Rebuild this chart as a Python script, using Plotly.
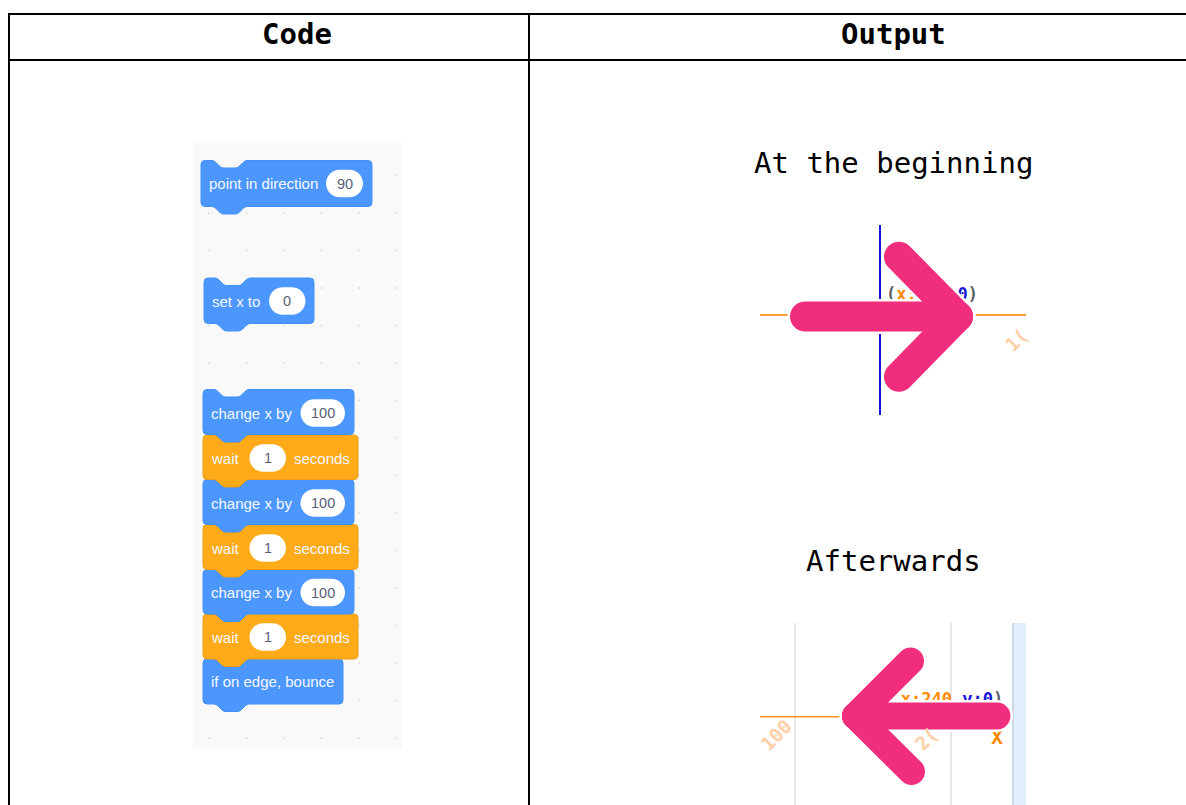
import math
import plotly.graph_objects as go

W, H = 1186, 805
# --- content -------------------------------------------------------------
headers = ["Code", "Output"]
captions = ["At the beginning", "Afterwards"]
BLUE, ORANGE = "#4c97ff", "#ffab19"
BLUE_EDGE, ORANGE_EDGE = "#4390f5", "#ec9f16"

# block: x, top, right, bottom, colour, edge
blocks = [
    (201, 160.5, 372, 206.5, BLUE, BLUE_EDGE),
    (204, 278, 314, 323.5, BLUE, BLUE_EDGE),
    (203, 389.5, 354, 434.5, BLUE, BLUE_EDGE),
    (203, 435, 358, 479.5, ORANGE, ORANGE_EDGE),
    (203, 479.5, 354, 524.5, BLUE, BLUE_EDGE),
    (203, 524.5, 358, 569.5, ORANGE, ORANGE_EDGE),
    (203, 569.5, 354, 614, BLUE, BLUE_EDGE),
    (203, 614, 358, 659, ORANGE, ORANGE_EDGE),
    (203, 659, 343, 704, BLUE, BLUE_EDGE),
]
# draw order: later blocks sit under the bump of earlier ones
block_order = [8, 7, 6, 5, 4, 3, 2, 1, 0]

block_labels = [
    ("point in direction", 207, 183.5), ("set x to", 210, 301.5),
    ("change x by", 209, 413.5), ("wait", 209, 458), ("seconds", 291.5, 458),
    ("change x by", 209, 503), ("wait", 209, 548), ("seconds", 291.5, 548),
    ("change x by", 209, 592.5), ("wait", 209, 637), ("seconds", 291.5, 637),
    ("if on edge, bounce", 209, 681.5),
]
# pill: left, right, centre y, value
pills = [
    (326, 363, 183.5, "90"), (269, 305.5, 301, "0"),
    (300.5, 345, 413, "100"), (249.5, 286, 458, "1"),
    (300.5, 345, 503, "100"), (249.5, 286, 548, "1"),
    (300.5, 345, 592.5, "100"), (249.5, 286, 637, "1"),
]
dot_xs = [209, 246.5, 284, 321.5, 359, 396.5]
dot_ys = [175.5, 213, 250.5, 288, 325.5, 363, 400.5, 438, 475.5, 513, 550.5, 588, 625.5, 663, 700.5, 738]

PINK = "#f02e7d"
arrow_right = dict(tail=(805, 316.5), tip=(958, 316.5), arm1=(899, 256.7), arm2=(899, 376.7), r=15)
arrow_left = dict(tail=(997, 716), tip=(855.5, 716), arm1=(910.5, 661), arm2=(911.5, 771.5), r=13.5)

ORANGE_AXIS, BLUE_AXIS, GREY_TXT, PALE = "#ff9a3d", "#1616d8", "#5a6068", "#ffd0a8"


def block_path(x0, y0, x1, y1):
    r = 4
    d = 7.5
    a, b, c, e = x0 + 13, x0 + 21, x0 + 36, x0 + 44
    s = 2  # softening of the notch corners
    return (f"M{x0},{y0+r} Q{x0},{y0} {x0+r},{y0} L{a-s},{y0} Q{a},{y0} {a+s},{y0+2} L{b-1.5},{y0+d-1} Q{b},{y0+d} {b+2},{y0+d} "
            f"L{c-2},{y0+d} Q{c},{y0+d} {c+1.5},{y0+d-1} L{e-s},{y0+2} Q{e},{y0} {e+s},{y0} "
            f"L{x1-r},{y0} Q{x1},{y0} {x1},{y0+r} L{x1},{y1-r} Q{x1},{y1} {x1-r},{y1} "
            f"L{e+s},{y1} Q{e},{y1} {e-s},{y1+2} L{c+1.5},{y1+d-1} Q{c},{y1+d} {c-2},{y1+d} "
            f"L{b+2},{y1+d} Q{b},{y1+d} {b-1.5},{y1+d-1} L{a+s},{y1+2} Q{a},{y1} {a-s},{y1} "
            f"L{x0+r},{y1} Q{x0},{y1} {x0},{y1-r} Z")


def pill_path(x0, x1, yc, h=27.5):
    r = h / 2
    k = r * 0.5523
    return (f"M{x0+r},{yc-r} L{x1-r},{yc-r} C{x1-r+k},{yc-r} {x1},{yc-k} {x1},{yc} "
            f"C{x1},{yc+k} {x1-r+k},{yc+r} {x1-r},{yc+r} L{x0+r},{yc+r} "
            f"C{x0+r-k},{yc+r} {x0},{yc+k} {x0},{yc} C{x0},{yc-k} {x0+r-k},{yc-r} {x0+r},{yc-r} Z")


def capsule(p, q, r):
    dx, dy = q[0] - p[0], q[1] - p[1]
    L = math.hypot(dx, dy)
    ux, uy = dx / L, dy / L
    nx, ny = -uy, ux
    k = r * 0.5523
    a = (p[0] + nx * r, p[1] + ny * r)
    b = (q[0] + nx * r, q[1] + ny * r)
    c = (q[0] - nx * r, q[1] - ny * r)
    d = (p[0] - nx * r, p[1] - ny * r)
    e = (q[0] + ux * r, q[1] + uy * r)
    f = (p[0] - ux * r, p[1] - uy * r)
    return (f"M{a[0]:.2f},{a[1]:.2f} L{b[0]:.2f},{b[1]:.2f} "
            f"C{b[0]+ux*k:.2f},{b[1]+uy*k:.2f} {e[0]+nx*k:.2f},{e[1]+ny*k:.2f} {e[0]:.2f},{e[1]:.2f} "
            f"C{e[0]-nx*k:.2f},{e[1]-ny*k:.2f} {c[0]+ux*k:.2f},{c[1]+uy*k:.2f} {c[0]:.2f},{c[1]:.2f} "
            f"L{d[0]:.2f},{d[1]:.2f} "
            f"C{d[0]-ux*k:.2f},{d[1]-uy*k:.2f} {f[0]-nx*k:.2f},{f[1]-ny*k:.2f} {f[0]:.2f},{f[1]:.2f} "
            f"C{f[0]+nx*k:.2f},{f[1]+ny*k:.2f} {a[0]-ux*k:.2f},{a[1]-uy*k:.2f} {a[0]:.2f},{a[1]:.2f} Z")


shapes = []


def rect(x0, y0, x1, y1, color, layer="below"):
    shapes.append(dict(type="rect", x0=x0, y0=y0, x1=x1, y1=y1, fillcolor=color, line_width=0, layer=layer))


def seg(x0, y0, x1, y1, color, w, layer="below"):
    shapes.append(dict(type="line", x0=x0, y0=y0, x1=x1, y1=y1, line=dict(color=color, width=w), layer=layer))


def path(d, fill, line=None, layer="above"):
    shapes.append(dict(type="path", path=d, fillcolor=fill, layer=layer,
                       line=dict(color=line or fill, width=1 if line else 0)))


# code panel
rect(193, 143, 402, 748, "#f9f9f9")
# output panels: axes
seg(760, 315, 1026, 315, ORANGE_AXIS, 2)
seg(880, 225, 880, 415, BLUE_AXIS, 2)
seg(795, 623, 795, 805, "#e6e6e6", 2)
seg(951, 623, 951, 805, "#e6e6e6", 2)
rect(1012, 623, 1026, 805, "#e3eefc")
rect(1012, 623, 1014, 805, "#c9d8ea")
seg(760, 716.7, 860, 716.7, "#ff9328", 1.5)

for i in block_order:
    x0, y0, x1, y1, col, edge = blocks[i]
    path(block_path(x0, y0, x1, y1), col, edge)
for x0, x1, yc, _ in pills:
    path(pill_path(x0, x1, yc), "#ffffff")

for a in (arrow_right, arrow_left):
    for color, r in (("#ffffff", a["r"] + 2.5), (PINK, a["r"])):
        for s in (a["tail"], a["arm1"], a["arm2"]):
            path(capsule(s, a["tip"], r), color)

# table rules
seg(9, 14, W, 14, "#000000", 2, "above")
seg(9, 60, W, 60, "#000000", 2, "above")
seg(9, 13, 9, H, "#000000", 2, "above")
seg(529, 14, 529, H, "#000000", 2, "above")

fig = go.Figure()
# background dots
fig.add_trace(go.Scatter(x=[x for x in dot_xs for _ in dot_ys], y=[y for _ in dot_xs for y in dot_ys],
                         mode="markers", marker=dict(size=2, color="#dedede"), hoverinfo="skip"))

MONO = "DejaVu Sans Mono"
# labels that sit behind the arrows
fig.add_trace(go.Scatter(
    x=[932, 952, 997],
    y=[295.5, 701, 739],
    mode="text",
    text=[f'<span style="color:{GREY_TXT}">(</span><span style="color:#ff8a00">x:0</span> '
          f'<span style="color:{BLUE_AXIS}">y:0</span><span style="color:{GREY_TXT}">)</span>',
          f'<span style="color:#ff8a00">x:240</span> <span style="color:{BLUE_AXIS}">y:0</span>'
          f'<span style="color:{GREY_TXT}">)</span>',
          '<span style="color:#ff8a00">X</span>'],
    textposition="middle center",
    textfont=dict(family=MONO, size=[17, 17, 20], weight="bold"),
    hoverinfo="skip"))

ann = []
for t, xc in zip(headers, (297, 893)):
    ann.append(dict(x=xc, y=33.5, text=f"<b>{t}</b>", font=dict(family=MONO, size=29, color="#000000")))
for t, yc in zip(captions, (163, 561)):
    ann.append(dict(x=893, y=yc, text=t, font=dict(family=MONO, size=29, color="#000000")))
for t, x, y in block_labels:
    ann.append(dict(x=x, y=y, text=t, xanchor="left", font=dict(family="Liberation Sans", size=15, color="#f4f8ff")))
for x0, x1, yc, v in pills:
    ann.append(dict(x=(x0 + x1) / 2, y=yc, text=v, font=dict(family="Liberation Sans", size=14.5, color="#575e75")))
for t, x, y in (("100", 776, 735), ("2(", 926, 739), ("1(", 1016, 340)):
    ann.append(dict(x=x, y=y, text=f"<b>{t}</b>", textangle=-45,
                    font=dict(family=MONO, size=19, color=PALE)))
for a_ in ann:
    a_.update(showarrow=False, xref="x", yref="y")
    a_.setdefault("xanchor", "center")
    a_.setdefault("yanchor", "middle")

axis = dict(visible=False, fixedrange=True)
fig.update_layout(
    width=W, height=H, margin=dict(l=0, r=0, t=0, b=0, pad=0),
    paper_bgcolor="#ffffff", plot_bgcolor="#ffffff", showlegend=False, hovermode=False,
    xaxis=dict(range=[0, W], **axis), yaxis=dict(range=[H, 0], **axis),
    shapes=shapes, annotations=ann,
)
fig.write_html("out.html", config=dict(displayModeBar=False),
               post_script="document.body.style.margin='0';document.documentElement.style.overflow='hidden';")
